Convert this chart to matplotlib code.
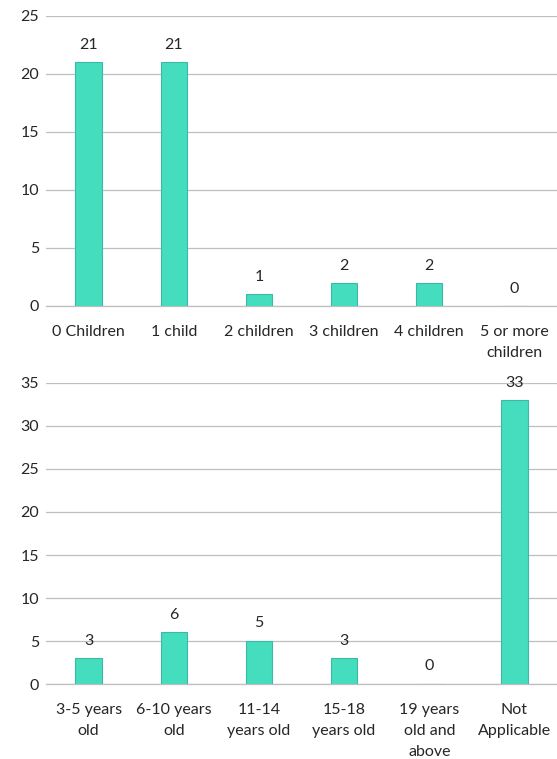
import matplotlib
matplotlib.use('Agg')
import matplotlib.pyplot as plt

children_labels = ['0 Children', '1 child', '2 children', '3 children', '4 children', '5 or more\nchildren']
children_counts = [21, 21, 1, 2, 2, 0]

age_labels = ['3-5 years\nold', '6-10 years\nold', '11-14\nyears old', '15-18\nyears old',
              '19 years\nold and\nabove', 'Not\nApplicable']
age_counts = [3, 6, 5, 3, 0, 33]

plt.rcParams['font.family'] = ['Lato', 'DejaVu Sans']
BAR = '#44DDBE'
EDGE = '#3BB9A6'
GRID = '#BFBFBF'
TXT = '#262626'
FS = 11.5


def draw(ax, labels, counts, ymax, step):
    x = range(len(labels))
    ax.bar(x, counts, width=0.31, color=BAR, edgecolor=EDGE, linewidth=0.8, zorder=3)
    for xi, v in zip(x, counts):
        ax.text(xi, v + ymax * 0.035, str(v), ha='center', va='bottom', fontsize=FS, color=TXT)
    ax.set_xlim(-0.5, len(labels) - 0.5)
    ax.set_ylim(0, ymax)
    ax.set_yticks(range(0, ymax + 1, step))
    ax.set_xticks(list(x))
    ax.set_xticklabels(labels, fontsize=FS, color=TXT, linespacing=1.62)
    ax.tick_params(axis='y', labelsize=FS, labelcolor=TXT, length=0, pad=5)
    ax.tick_params(axis='x', length=0, pad=14)
    ax.grid(axis='y', color=GRID, linewidth=0.9, zorder=0)
    for s in ['top', 'right', 'left']:
        ax.spines[s].set_visible(False)
    ax.spines['bottom'].set_color(GRID)
    ax.spines['bottom'].set_linewidth(0.9)


fig = plt.figure(figsize=(5.57, 7.59), dpi=100)
ax1 = fig.add_axes([0.0826, 0.597, 0.9174, 0.382])
ax2 = fig.add_axes([0.0826, 0.0988, 0.9174, 0.3966])
draw(ax1, children_labels, children_counts, 25, 5)
draw(ax2, age_labels, age_counts, 35, 5)

fig.savefig('out.png', dpi=100)
